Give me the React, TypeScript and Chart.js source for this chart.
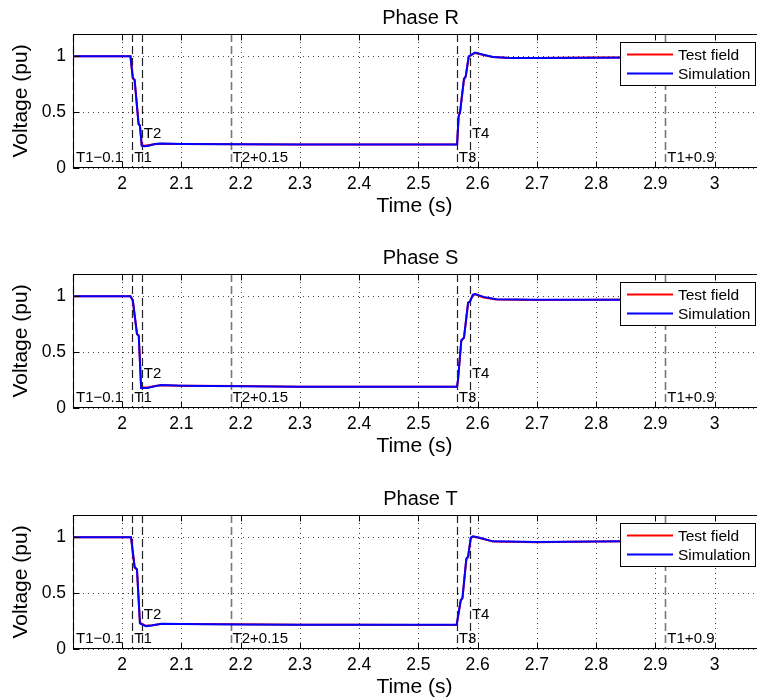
import React, { useEffect, useRef } from "react";
import { Chart, registerables } from "chart.js";
Chart.register(...registerables);

// ---------------- data ----------------
const xMin = 1.917;
const xMax = 3.07;
const yMin = 0;
const yMax = 1.2;
const xTickValues = [2.0, 2.1, 2.2, 2.3, 2.4, 2.5, 2.6, 2.7, 2.8, 2.9, 3.0];
const xTickLabels = ["2", "2.1", "2.2", "2.3", "2.4", "2.5", "2.6", "2.7", "2.8", "2.9", "3"];
const yTickValues = [0, 0.5, 1];
const yTickLabels = ["0", "0.5", "1"];

const eventTimes = [1.917, 2.017, 2.033, 2.183, 2.565, 2.587, 2.917];
const eventLabels = ["T1\u22120.1", "T1", "T2", "T2+0.15", "T3", "T4", "T1+0.9"];
const eventLabelLevels = [0.05, 0.05, 0.27, 0.05, 0.05, 0.27, 0.05];

const phaseTitles = ["Phase R", "Phase S", "Phase T"];
const seriesNames = ["Test field", "Simulation"];
const xTitle = "Time (s)";
const yTitle = "Voltage (pu)";

const timeR = [1.917, 2.014, 2.018, 2.021, 2.0277, 2.03, 2.033, 2.038, 2.045, 2.055, 2.065, 2.1, 2.2, 2.3, 2.4, 2.5, 2.5654, 2.568, 2.5705, 2.577, 2.58, 2.585, 2.5955, 2.61, 2.626, 2.655, 2.7, 2.8, 2.9, 3.07];
const simR = [1.0, 1.0, 0.81, 0.79, 0.39, 0.38, 0.2, 0.195, 0.2, 0.215, 0.22, 0.215, 0.212, 0.21, 0.21, 0.21, 0.21, 0.464, 0.5, 0.8, 0.82, 1.0, 1.033, 1.015, 0.995, 0.985, 0.985, 0.988, 0.99, 0.99];
const testR = [1.0, 1.0, 0.8, 0.79, 0.4, 0.38, 0.205, 0.2, 0.205, 0.212, 0.218, 0.216, 0.213, 0.21, 0.211, 0.21, 0.21, 0.46, 0.51, 0.79, 0.82, 0.995, 1.03, 1.012, 0.993, 0.986, 0.984, 0.99, 0.99, 0.99];

const timeS = [1.917, 2.014, 2.018, 2.025, 2.028, 2.032, 2.043, 2.055, 2.066, 2.1, 2.2, 2.3, 2.4, 2.5, 2.5654, 2.567, 2.5725, 2.577, 2.584, 2.587, 2.592, 2.596, 2.61, 2.632, 2.7, 2.8, 2.9, 3.07];
const simS = [1.0, 1.0, 0.964, 0.667, 0.645, 0.18, 0.18, 0.195, 0.205, 0.2, 0.195, 0.19, 0.19, 0.19, 0.19, 0.26, 0.607, 0.628, 0.944, 0.95, 1.015, 1.02, 0.995, 0.973, 0.97, 0.97, 0.97, 0.97];
const testS = [1.0, 1.0, 0.96, 0.66, 0.65, 0.185, 0.183, 0.197, 0.203, 0.199, 0.196, 0.191, 0.19, 0.19, 0.19, 0.25, 0.6, 0.63, 0.94, 0.955, 1.01, 1.018, 0.99, 0.972, 0.968, 0.97, 0.971, 0.97];

const timeT = [1.917, 2.015, 2.021, 2.025, 2.03, 2.04, 2.05, 2.066, 2.1, 2.2, 2.3, 2.4, 2.5, 2.5647, 2.5715, 2.5745, 2.581, 2.584, 2.5885, 2.592, 2.6, 2.626, 2.7, 2.8, 2.9, 3.07];
const simT = [1.0, 1.0, 0.735, 0.714, 0.23, 0.205, 0.21, 0.225, 0.223, 0.22, 0.217, 0.217, 0.217, 0.217, 0.4375, 0.455, 0.81, 0.824, 0.997, 1.01, 1.0, 0.964, 0.958, 0.962, 0.967, 0.967];
const testT = [1.0, 1.0, 0.73, 0.71, 0.235, 0.208, 0.212, 0.224, 0.224, 0.221, 0.218, 0.217, 0.216, 0.216, 0.43, 0.46, 0.8, 0.83, 0.99, 1.005, 0.998, 0.962, 0.957, 0.963, 0.968, 0.967];

const phaseTimes = [timeR, timeS, timeT];
const phaseSim = [simR, simS, simT];
const phaseTest = [testR, testS, testT];

// ---------------- drawing ----------------
const FONT = '"Liberation Sans", Arial, Helvetica, sans-serif';
const TEST_COLOR = "#ff0000";
const SIM_COLOR = "#0000ff";

function makeDecor(title: string) {
  return {
    id: "decor",
    beforeDatasetsDraw(chart: any) {
      const { ctx, chartArea: a, scales } = chart;
      const x = scales.x;
      const y = scales.y;
      ctx.save();
      // dotted grid
      ctx.strokeStyle = "rgba(0,0,0,0.75)";
      ctx.lineWidth = 1;
      ctx.setLineDash([1, 4]);
      xTickValues.forEach((v) => {
        const px = Math.round(x.getPixelForValue(v)) + 0.5;
        ctx.beginPath();
        ctx.moveTo(px, a.bottom);
        ctx.lineTo(px, a.top);
        ctx.stroke();
      });
      yTickValues.forEach((v) => {
        const py = Math.round(y.getPixelForValue(v)) + 0.5;
        ctx.beginPath();
        ctx.moveTo(a.left, py);
        ctx.lineTo(a.right, py);
        ctx.stroke();
      });
      // event dashed lines
      ctx.setLineDash([8, 4]);
      eventTimes.forEach((t, i) => {
        const gray = i === 3 || i === 6;
        ctx.strokeStyle = gray ? "#777" : "#222";
        ctx.lineWidth = gray ? 1.6 : 1.2;
        const px = Math.round(x.getPixelForValue(t)) + 0.5;
        ctx.beginPath();
        ctx.moveTo(px, a.top);
        ctx.lineTo(px, a.bottom);
        ctx.stroke();
      });
      ctx.setLineDash([]);
      // event labels
      ctx.fillStyle = "#000";
      ctx.font = `15px ${FONT}`;
      ctx.textAlign = "left";
      ctx.textBaseline = "alphabetic";
      eventTimes.forEach((t, i) => {
        const px = Math.max(a.left + 3, x.getPixelForValue(t) + 2);
        ctx.fillText(eventLabels[i], px, y.getPixelForValue(eventLabelLevels[i]));
      });
      ctx.restore();
    },
    afterDraw(chart: any) {
      const { ctx, chartArea: a, scales } = chart;
      const x = scales.x;
      const y = scales.y;
      ctx.save();
      ctx.strokeStyle = "#000";
      ctx.lineWidth = 1;
      ctx.setLineDash([]);
      const L = a.left + 0.5;
      const R = a.right + 2;
      const T = a.top + 0.5;
      const B = a.bottom - 0.5;
      // axes frame (right side runs past the picture's edge)
      ctx.beginPath();
      ctx.moveTo(R, T);
      ctx.lineTo(L, T);
      ctx.lineTo(L, B);
      ctx.lineTo(R, B);
      ctx.stroke();
      // inner ticks
      const tl = 6;
      ctx.beginPath();
      xTickValues.forEach((v) => {
        const px = Math.round(x.getPixelForValue(v)) + 0.5;
        ctx.moveTo(px, B);
        ctx.lineTo(px, B - tl);
        ctx.moveTo(px, T);
        ctx.lineTo(px, T + tl);
      });
      yTickValues.forEach((v) => {
        const py = Math.round(y.getPixelForValue(v)) + 0.5;
        ctx.moveTo(L, py);
        ctx.lineTo(L + tl, py);
      });
      ctx.stroke();
      // title
      ctx.fillStyle = "#000";
      ctx.font = `20px ${FONT}`;
      ctx.textAlign = "center";
      ctx.textBaseline = "alphabetic";
      ctx.fillText(title, (a.left + a.right) / 2 + 6, a.top - 10);
      // legend
      const lw = 136;
      const lh = 44;
      const lx = a.right - lw;
      const ly = a.top + 8;
      ctx.fillStyle = "#fff";
      ctx.fillRect(lx, ly, lw, lh);
      ctx.strokeStyle = "#000";
      ctx.lineWidth = 1;
      ctx.strokeRect(lx + 0.5, ly + 0.5, lw - 1, lh - 1);
      const colors = [TEST_COLOR, SIM_COLOR];
      ctx.font = `15.5px ${FONT}`;
      ctx.textAlign = "left";
      seriesNames.forEach((name, i) => {
        const yy = ly + 12.5 + i * 19;
        ctx.strokeStyle = colors[i];
        ctx.lineWidth = 2;
        ctx.beginPath();
        ctx.moveTo(lx + 7, yy);
        ctx.lineTo(lx + 53, yy);
        ctx.stroke();
        ctx.fillStyle = "#000";
        ctx.fillText(name, lx + 58, yy + 5.5);
      });
      ctx.restore();
    },
  };
}

function Panel({ index, top, height }: { index: number; top: number; height: number }) {
  const ref = useRef<HTMLCanvasElement | null>(null);
  useEffect(() => {
    if (!ref.current) return;
    const times = phaseTimes[index];
    const chart = new Chart(ref.current, {
      type: "line",
      data: {
        datasets: [
          {
            label: seriesNames[0],
            data: times.map((t, i) => ({ x: t, y: phaseTest[index][i] })),
            borderColor: TEST_COLOR,
            borderWidth: 2,
            pointRadius: 0,
            tension: 0,
            fill: false,
            order: 1,
          },
          {
            label: seriesNames[1],
            data: times.map((t, i) => ({ x: t, y: phaseSim[index][i] })),
            borderColor: SIM_COLOR,
            borderWidth: 2,
            pointRadius: 0,
            tension: 0,
            fill: false,
            order: 0,
          },
        ],
      },
      options: {
        responsive: false,
        animation: false,
        devicePixelRatio: 1,
        layout: { padding: { top: 34, right: 1, left: 0, bottom: height - 219 } },
        plugins: {
          legend: { display: false },
          title: { display: false },
          tooltip: { enabled: false },
        },
        scales: {
          x: {
            type: "linear",
            min: xMin,
            max: xMax,
            bounds: "data",
            grid: { display: false, drawTicks: false },
            border: { display: false },
            afterBuildTicks: (s: any) => {
              s.ticks = xTickValues.map((v) => ({ value: v }));
            },
            afterFit: (s: any) => {
              s.height = 51;
            },
            ticks: {
              autoSkip: false,
              maxRotation: 0,
              padding: 6,
              color: "#000",
              font: { family: FONT, size: 17.5 },
              callback: (_v: any, i: number) => xTickLabels[i],
            },
            title: {
              display: true,
              text: xTitle,
              color: "#000",
              font: { family: FONT, size: 21 },
              padding: { top: 0, bottom: 0 },
            },
          },
          y: {
            type: "linear",
            min: yMin,
            max: yMax,
            bounds: "data",
            grid: { display: false, drawTicks: false },
            border: { display: false },
            afterBuildTicks: (s: any) => {
              s.ticks = yTickValues.map((v) => ({ value: v }));
            },
            afterFit: (s: any) => {
              s.width = 73;
            },
            ticks: {
              padding: 7,
              color: "#000",
              font: { family: FONT, size: 17.5 },
              callback: (_v: any, i: number) => yTickLabels[i],
            },
            title: {
              display: true,
              text: yTitle,
              color: "#000",
              font: { family: FONT, size: 21 },
              padding: { top: 9, bottom: 0 },
            },
          },
        },
      } as any,
      plugins: [makeDecor(phaseTitles[index]) as any],
    });
    return () => chart.destroy();
  }, [index, height]);
  return (
    <canvas
      ref={ref}
      width={757}
      height={height}
      style={{ position: "absolute", left: 0, top, width: 757, height, display: "block" }}
    />
  );
}

export default function App() {
  return (
    <div
      style={{
        position: "fixed",
        left: 0,
        top: 0,
        width: 757,
        height: 700,
        overflow: "hidden",
        background: "#fff",
      }}
    >
      <Panel index={0} top={0} height={240} />
      <Panel index={1} top={240} height={240} />
      <Panel index={2} top={481} height={219} />
    </div>
  );
}
